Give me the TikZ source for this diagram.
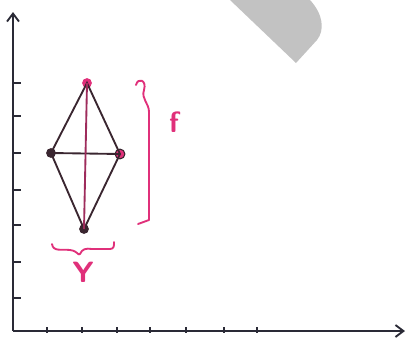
\documentclass[tikz,border=0pt]{standalone}
\usepackage{tikz}
\usetikzlibrary{arrows.meta,positioning,calc}

\definecolor{inkdark}{HTML}{3A2630}
\definecolor{inkpink}{HTML}{E0307A}
\definecolor{inkaxis}{HTML}{2A2A36}

\begin{document}
\begin{tikzpicture}[x=0.75pt,y=-0.75pt,
  dot/.style={circle,inner sep=2.6pt},
  edge/.style={inkdark,line width=1.4pt},
  hand/.style={inkpink,line width=1.4pt,line cap=round,line join=round},
  lbl/.style={inkpink,font=\sffamily\bfseries\fontsize{22}{22}\selectfont}]
\useasboundingbox (0,0) rectangle (409,343);
% grey band at the top
\fill[gray!48] (230,0) -- (296,63) -- (317,40) .. controls (325,30) and (323,14) .. (310,0) -- cycle;
% axes
\coordinate (O) at (13,331);
\coordinate (ytop) at (13,12);
\coordinate (xend) at (405,331);
\draw[inkaxis,line width=1.4pt,-{Straight Barb[length=6pt,width=9pt]}] (O) -- (ytop);
\draw[inkaxis,line width=1.4pt,-{Straight Barb[length=6pt,width=9pt]}] (O) -- (xend);
% ticks on the axes
\foreach \yi in {83,116,153,190,225,262,298} {
  \draw[inkaxis,line width=1pt] (13,\yi) -- (21,\yi);
}
\foreach \xi in {47,82,117,150,186,224,257} {
  \draw[inkaxis,line width=1pt] (\xi,327) -- (\xi,333);
}
% rhombus corners
\node[dot,fill=inkpink] (top) at (87,83) {};
\node[dot,fill=inkdark] (left) at (51,153) {};
\node[dot,fill=inkpink,draw=inkdark,line width=0.8pt] (right) at (120,154) {};
\node[dot,fill=inkdark] (bottom) at (84,229) {};
% rhombus edges
\draw[edge] (top.center) -- (left.center) -- (bottom.center) -- (right.center) -- cycle;
\draw[edge] (left.center) -- (right.center);
\draw[edge,inkpink!60!inkdark] (top.center) -- (bottom.center);
% right brace and its label
\draw[hand] (136,85) .. controls (138,77) and (147,80) .. (144,90)
  .. controls (141,99) and (149,103) .. (149,112) -- (149,220) -- (138,224);
\node[lbl] (flbl) at (174,122) {f};
% bottom brace and its label
\draw[hand] (52,244) .. controls (53,252) and (62,249) .. (70,250)
  .. controls (78,251) and (78,256) .. (80,254) .. controls (82,249) and (86,248) .. (92,249)
  -- (110,249) .. controls (114,249) and (114,246) .. (114,242);
\node[lbl] (ylbl) at (83,272) {Y};
\end{tikzpicture}
\end{document}
